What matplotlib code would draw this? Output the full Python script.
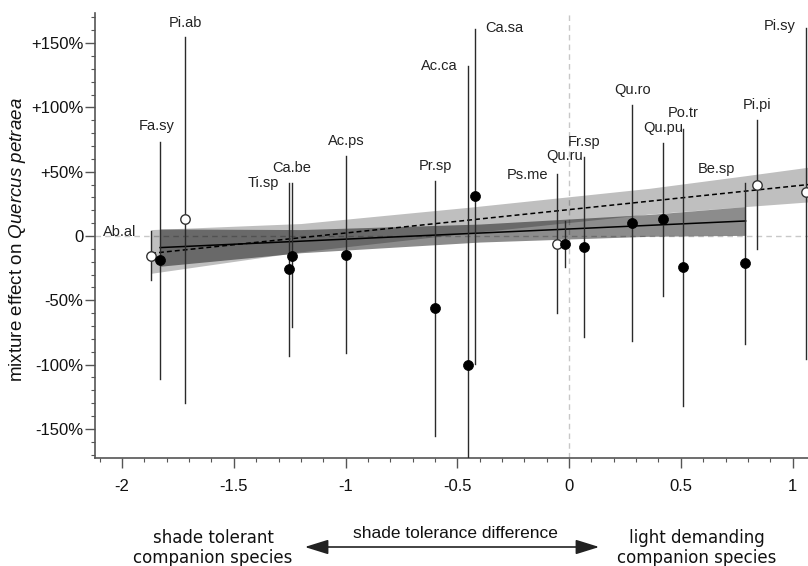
import matplotlib
matplotlib.use("Agg")
import matplotlib.pyplot as plt
from matplotlib.patches import FancyArrowPatch

plt.rcParams['font.family'] = ['Liberation Sans', 'DejaVu Sans']
plt.rcParams['axes.unicode_minus'] = False
plt.rcParams['mathtext.fontset'] = 'custom'
plt.rcParams['mathtext.it'] = 'Liberation Sans:italic'
plt.rcParams['mathtext.rm'] = 'Liberation Sans'

# ---------------- data ----------------
species = ["Ab.al", "Fa.sy", "Pi.ab", "Ti.sp", "Ca.be", "Ac.ps", "Pr.sp", "Ac.ca", "Ca.sa",
           "Ps.me", "Qu.ru", "Fr.sp", "Qu.ro", "Qu.pu", "Po.tr", "Be.sp", "Pi.pi", "Pi.sy"]
shade_diff = [-1.870, -1.830, -1.718, -1.253, -1.239, -0.998, -0.600, -0.452, -0.421,
              -0.054, -0.020, 0.067, 0.282, 0.421, 0.510, 0.787, 0.841, 1.060]
effect = [-15.5, -18.7, 13.0, -26.0, -15.5, -14.5, -56.0, -100.0, 31.0,
          -6.0, -6.5, -8.5, 10.0, 13.0, -24.0, -21.0, 40.0, 34.0]
ci_upper = [3.9, 73.0, 155.0, 41.0, 41.0, 62.0, 43.0, 132.0, 161.0,
            48.0, 11.7, 61.5, 102.0, 72.0, 83.0, 41.0, 90.0, 162.0]
ci_lower = [-34.0, -111.0, -130.0, -93.0, -71.0, -91.0, -155.5, -200.0, -99.5,
            -60.0, -24.0, -78.5, -82.0, -46.5, -132.0, -84.0, -10.0, -96.0]
open_marker = [True, False, True, False, False, False, False, False, False,
               True, False, False, False, False, False, False, True, True]

# regression fits
solid_x = [-1.83, 0.79]
solid_y = [-9.0, 11.7]
dashed_x = [-1.87, 1.07]
dashed_y = [-13.5, 40.0]

# confidence bands
dark_band_x = [-1.83, -1.20, -0.40, 0.36, 0.79]
dark_band_hi = [5.5, 5.0, 9.3, 16.8, 22.9]
dark_band_lo = [-23.5, -13.0, -4.7, -0.2, 0.5]
light_band_x = [-1.87, -1.20, -0.44, 0.36, 0.79, 1.07]
light_band_hi = [5.0, 9.7, 22.5, 37.1, 46.9, 53.5]
light_band_lo = [-29.0, -12.3, 2.5, 17.1, 22.9, 26.5]

x_ticks = [-2, -1.5, -1, -0.5, 0, 0.5, 1]
x_ticklabels = ["-2", "-1.5", "-1", "-0.5", "0", "0.5", "1"]
y_ticks = [150, 100, 50, 0, -50, -100, -150]
y_ticklabels = ["+150%", "+100%", "+50%", "0", "-50%", "-100%", "-150%"]

# label placement (data coords) -- layout
label_pos = {
    "Ab.al": (-2.009, 3.1), "Fa.sy": (-1.843, 85.5), "Pi.ab": (-1.718, 165.6),
    "Ti.sp": (-1.369, 41.2), "Ca.be": (-1.239, 52.9), "Ac.ps": (-0.998, 73.9),
    "Pr.sp": (-0.599, 54.4), "Ac.ca": (-0.582, 132.2), "Ca.sa": (-0.291, 161.7),
    "Ps.me": (-0.188, 47.8), "Qu.ru": (-0.018, 62.2), "Fr.sp": (0.067, 73.1),
    "Qu.ro": (0.282, 113.5), "Qu.pu": (0.421, 84.0), "Po.tr": (0.510, 95.6),
    "Be.sp": (0.658, 52.1), "Pi.pi": (0.841, 101.9), "Pi.sy": (0.944, 163.3),
}

# ---------------- figure ----------------
W, H = 808, 566
fig = plt.figure(figsize=(W / 100, H / 100), dpi=100)
ax = fig.add_axes([95 / W, 1 - 458 / H, 1 - 95 / W, (458 - 13) / H])
ax.set_xlim(-2.121, 1.069)
ax.set_ylim(-172.6, 173.4)

# reference lines
ax.axhline(0, color='#c8c8c8', lw=1.0, dashes=(4, 3), zorder=0)
ax.axvline(0, color='#c8c8c8', lw=1.0, dashes=(4, 3), zorder=0)

# bands
ax.fill_between(light_band_x, light_band_lo, light_band_hi, color='black', alpha=0.25, lw=0, zorder=1)
ax.fill_between(dark_band_x, dark_band_lo, dark_band_hi, color='black', alpha=0.45, lw=0, zorder=2)

# regression lines
ax.plot(solid_x, solid_y, color='black', lw=1.1, zorder=3)
ax.plot(dashed_x, dashed_y, color='black', lw=1.1, dashes=(3.2, 2.0), zorder=3)

# error bars and points
for x, y, lo, hi, op in zip(shade_diff, effect, ci_lower, ci_upper, open_marker):
    ax.plot([x, x], [lo, hi], color='#2a2a2a', lw=1.0, zorder=4)
    if op:
        ax.plot([x], [y], 'o', ms=6.8, mfc='white', mec='#333333', mew=1.0, zorder=5)
    else:
        ax.plot([x], [y], 'o', ms=7.2, mfc='black', mec='black', mew=0.5, zorder=5)

for name in species:
    lx, ly = label_pos[name]
    ax.text(lx, ly, name, ha='center', va='center', fontsize=10.5, color='#222222', clip_on=False)

# axes styling
for s in ['top', 'right']:
    ax.spines[s].set_visible(False)
for s in ['left', 'bottom']:
    ax.spines[s].set_color('#555555')
    ax.spines[s].set_linewidth(1.2)

ax.set_xticks(x_ticks)
ax.set_xticklabels(x_ticklabels)
ax.set_yticks(y_ticks)
ax.set_yticklabels(y_ticklabels)
ax.set_xticks([v / 10 for v in range(-21, 11)], minor=True)
ax.set_yticks(list(range(-170, 171, 10)), minor=True)
ax.tick_params(axis='both', which='major', direction='out', length=7, width=1.0,
               color='#555555', labelsize=12, labelcolor='#111111')
ax.tick_params(axis='both', which='minor', direction='out', length=2.8, width=0.8, color='#555555')
ax.tick_params(axis='x', which='major', pad=8)
ax.tick_params(axis='y', which='major', pad=1.5)

fig.text(18 / W, 1 - 240 / H, 'mixture effect on $\\it{Quercus\\ petraea}$', rotation=90,
         ha='center', va='center', fontsize=13.5, color='#111111')

# bottom annotations
fig.text(213 / W, 1 - 548 / H, 'shade tolerant\ncompanion species', ha='center', va='center',
         fontsize=12, family='DejaVu Sans', color='#111111', linespacing=1.2)
fig.text(697 / W, 1 - 548 / H, 'light demanding\ncompanion species', ha='center', va='center',
         fontsize=12, family='DejaVu Sans', color='#111111', linespacing=1.2)
fig.text(455 / W, 1 - 534 / H, 'shade tolerance difference', ha='center', va='center',
         fontsize=12.5, color='#111111')
arrow = FancyArrowPatch((302 / W, 1 - 547 / H), (602 / W, 1 - 547 / H), transform=fig.transFigure,
                        arrowstyle='<|-|>,head_length=0.9,head_width=0.28', mutation_scale=16,
                        color='#222222', lw=1.2)
fig.patches.append(arrow)

fig.savefig('out.png', dpi=100)
